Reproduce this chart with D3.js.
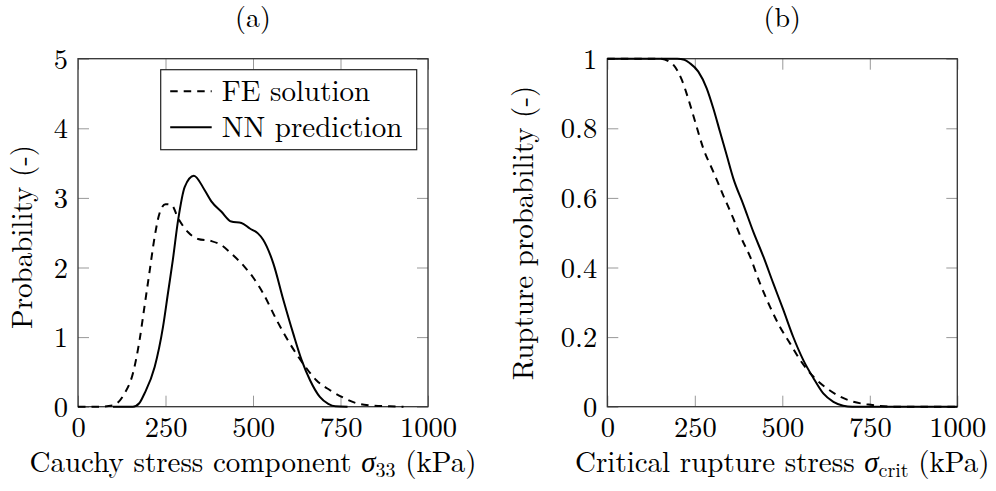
<!DOCTYPE html>
<html>
<head>
<meta charset="utf-8">
<script src="https://cdn.jsdelivr.net/npm/d3@7"></script>
<style>
  body { margin: 0; background: #fff; }
  svg { display: block; }
</style>
</head>
<body>
<svg id="chart" width="996" height="491"></svg>
<script>
// Panel (a): stress distribution
const feStressA = [0, 60, 100, 133, 157, 176, 190, 205, 219, 233, 250, 267, 286, 314, 343, 381, 410, 438, 476, 500, 529, 567, 605, 643, 681, 719, 758, 796, 834, 891, 930];
const feDensityA = [0, 0, 0.02, 0.19, 0.48, 0.96, 1.44, 1.96, 2.44, 2.78, 2.91, 2.90, 2.71, 2.51, 2.41, 2.38, 2.32, 2.20, 2.01, 1.86, 1.63, 1.25, 0.91, 0.62, 0.38, 0.24, 0.13, 0.05, 0.02, 0.005, 0];
const nnStressA = [100, 157, 175, 190, 219, 243, 257, 271, 286, 305, 331, 362, 381, 410, 438, 467, 491, 514, 529, 558, 587, 615, 639, 663, 691, 715, 735, 770];
const nnDensityA = [0, 0, 0.05, 0.19, 0.57, 1.15, 1.63, 2.11, 2.68, 3.16, 3.32, 3.11, 2.95, 2.80, 2.66, 2.64, 2.56, 2.49, 2.40, 2.06, 1.53, 1.05, 0.67, 0.38, 0.14, 0.04, 0.005, 0];

// Panel (b): rupture probability
const feStressB = [0, 150, 175, 189, 213, 231, 251, 274, 303, 331, 360, 379, 408, 436, 465, 493, 522, 551, 589, 627, 665, 703, 741, 779, 820, 1000];
const feProbB = [1, 1, 0.993, 0.982, 0.939, 0.886, 0.819, 0.743, 0.675, 0.608, 0.541, 0.493, 0.431, 0.355, 0.287, 0.230, 0.182, 0.134, 0.086, 0.053, 0.029, 0.014, 0.007, 0.002, 0, 0];
const nnStressB = [0, 200, 220, 236, 260, 284, 303, 322, 341, 360, 389, 417, 446, 474, 503, 531, 560, 589, 617, 646, 674, 700, 1000];
const nnProbB = [1, 1, 0.997, 0.987, 0.963, 0.915, 0.857, 0.79, 0.723, 0.656, 0.58, 0.503, 0.431, 0.355, 0.278, 0.201, 0.134, 0.082, 0.038, 0.014, 0.003, 0, 0];

// Ticks and labels
const xTicks = [0, 250, 500, 750, 1000];
const xTickLabels = ['0', '250', '500', '750', '1000'];
const yTicksA = [0, 1, 2, 3, 4, 5];
const yTickLabelsA = ['0', '1', '2', '3', '4', '5'];
const yTicksB = [0, 0.2, 0.4, 0.6, 0.8, 1];
const yTickLabelsB = ['0', '0.2', '0.4', '0.6', '0.8', '1'];
const legendLabels = ['FE solution', 'NN prediction'];

const FONT = '"Latin Modern Roman", "CMU Serif", "Liberation Serif", serif';
const FONT_SIZE = 29;
const PLOT = { top: 58.7, width: 350, height: 348, tick: 11 };

const svg = d3.select('#chart');
svg.append('rect').attr('width', 996).attr('height', 491).attr('fill', '#fff');

function zip(xs, ys) {
    return xs.map((x, i) => ({ x: x, y: ys[i] }));
}

/**
 * Draws one panel with frame, ticks, curves
 */
function drawPanel(cfg) {
    const g = svg.append('g').attr('transform', `translate(${cfg.left},${PLOT.top})`);
    const x = d3.scaleLinear().domain([0, 1000]).range([0, PLOT.width]);
    const y = d3.scaleLinear().domain(cfg.yDomain).range([PLOT.height, 0]);

    // ticks on all sides, pointing inward
    const axes = [
        { axis: d3.axisBottom(x).tickValues(xTicks).tickFormat((d, k) => xTickLabels[k]), t: `translate(0,${PLOT.height})`, labels: true },
        { axis: d3.axisTop(x).tickValues(xTicks), t: 'translate(0,0)', labels: false },
        { axis: d3.axisLeft(y).tickValues(cfg.yTicks).tickFormat((d, k) => cfg.yTickLabels[k]), t: 'translate(0,0)', labels: true },
        { axis: d3.axisRight(y).tickValues(cfg.yTicks), t: `translate(${PLOT.width},0)`, labels: false }
    ];
    axes.forEach((a, i) => {
        a.axis.tickSize(-PLOT.tick);
        const ag = g.append('g').attr('transform', a.t).call(a.axis);
        ag.select('.domain').remove();
        ag.selectAll('.tick line').attr('stroke', '#999').attr('stroke-width', 1);
        if (!a.labels) {
            ag.selectAll('.tick text').remove();
            return;
        }
        const txt = ag.selectAll('.tick text')
            .style('font-family', FONT)
            .style('font-size', '28.5px')
            .attr('fill', '#000');
        if (i === 0) {
            txt.attr('y', 30).attr('dy', 0);
        } else {
            txt.attr('x', -10).attr('dy', 9.5);
        }
    });

    // frame
    g.append('rect')
        .attr('width', PLOT.width).attr('height', PLOT.height)
        .attr('fill', 'none').attr('stroke', '#333').attr('stroke-width', 1.3);

    const line = d3.line()
        .x(d => x(d.x))
        .y(d => y(d.y))
        .curve(d3.curveMonotoneX);

    g.append('path').datum(zip(cfg.feX, cfg.feY))
        .attr('d', line).attr('fill', 'none')
        .attr('stroke', '#000').attr('stroke-width', 2)
        .attr('stroke-dasharray', '7.5,6');
    g.append('path').datum(zip(cfg.nnX, cfg.nnY))
        .attr('d', line).attr('fill', 'none')
        .attr('stroke', '#000').attr('stroke-width', 2);

    // title
    g.append('text')
        .attr('x', PLOT.width / 2).attr('y', 26.5 - PLOT.top)
        .attr('text-anchor', 'middle')
        .style('font-family', FONT).style('font-size', '28px')
        .text(cfg.title);

    // x label with subscript
    const xl = g.append('text')
        .attr('x', PLOT.width / 2).attr('y', 472 - PLOT.top)
        .attr('text-anchor', 'middle')
        .style('font-family', FONT).style('font-size', FONT_SIZE + 'px');
    xl.append('tspan').text(cfg.xLabel[0]);
    xl.append('tspan').style('font-style', 'italic').text('σ');
    xl.append('tspan').style('font-size', '20px').attr('dy', 5).text(cfg.xLabel[1]);
    xl.append('tspan').attr('dy', -5).text(' (kPa)');

    // y label
    g.append('text')
        .attr('transform', `translate(${-cfg.yLabelOffset},${cfg.yLabelCenter - PLOT.top}) rotate(-90)`)
        .attr('text-anchor', 'middle')
        .style('font-family', FONT).style('font-size', FONT_SIZE + 'px')
        .text(cfg.yLabel);

    return { g: g, x: x, y: y };
}

const panelA = drawPanel({
    left: 78, title: '(a)',
    yDomain: [0, 5], yTicks: yTicksA, yTickLabels: yTickLabelsA,
    feX: feStressA, feY: feDensityA, nnX: nnStressA, nnY: nnDensityA,
    xLabel: ['Cauchy stress component ', '33'],
    yLabel: 'Probability (-)', yLabelOffset: 46, yLabelCenter: 237
});

drawPanel({
    left: 607.3, title: '(b)',
    yDomain: [0, 1], yTicks: yTicksB, yTickLabels: yTickLabelsB,
    feX: feStressB, feY: feProbB, nnX: nnStressB, nnY: nnProbB,
    xLabel: ['Critical rupture stress ', 'crit'],
    yLabel: 'Rupture probability (-)', yLabelOffset: 74, yLabelCenter: 233
});

// Legend in panel (a)
const legend = panelA.g.append('g').attr('transform', `translate(${160.7 - 78},${69.7 - PLOT.top})`);
legend.append('rect')
    .attr('width', 256).attr('height', 80)
    .attr('fill', '#fff').attr('stroke', '#222').attr('stroke-width', 1.2);
legendLabels.forEach((label, i) => {
    const cy = 21.6 + i * 36;
    legend.append('line')
        .attr('x1', 9.5).attr('x2', 51).attr('y1', cy).attr('y2', cy)
        .attr('stroke', '#000').attr('stroke-width', 2)
        .attr('stroke-dasharray', i === 0 ? '7.5,6' : null);
    legend.append('text')
        .attr('x', 61).attr('y', cy + 10)
        .style('font-family', FONT).style('font-size', FONT_SIZE + 'px')
        .text(label);
});
</script>
</body>
</html>
